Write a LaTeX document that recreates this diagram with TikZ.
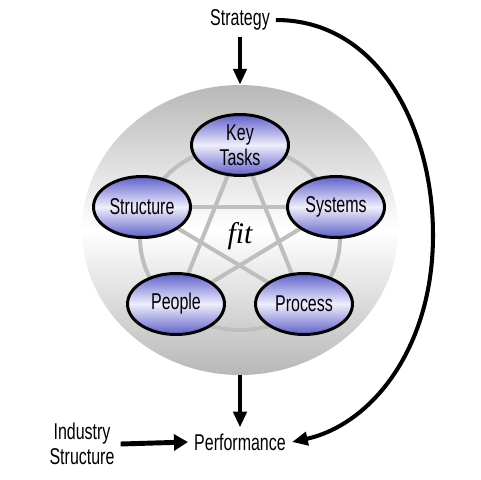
\documentclass[tikz,border=0pt]{standalone}
\usepackage{fontspec}
\setmainfont{Liberation Sans}[FakeStretch=0.7]
\newfontfamily\fitfont{Liberation Serif}
\usepackage{xcolor}
\usetikzlibrary{shapes.geometric}
\usetikzlibrary{arrows.meta}
\definecolor{elemBlue}{RGB}{96,96,204}
\definecolor{elemLight}{RGB}{238,238,252}
\definecolor{discGray}{RGB}{184,184,184}
\definecolor{starGray}{RGB}{190,190,190}
\pgfdeclarelayer{back}
\pgfdeclarelayer{mid}
\pgfsetlayers{back,mid,main}

\begin{document}
\begin{tikzpicture}[x=0.02cm,y=-0.02cm,font=\fontsize{13}{14}\selectfont,
    element/.style={ellipse,draw=black,line width=1.7pt,minimum width=1.94cm,minimum height=1.22cm,inner sep=0pt,align=center,
      top color=elemBlue,bottom color=elemBlue,middle color=elemLight},
    starline/.style={draw=starGray,line width=2.3pt},
    bigarrow/.style={-{Triangle[length=9pt,width=7.5pt]},line width=2.3pt}]
    \useasboundingbox (0,0) rectangle (480,480);

    \begin{pgfonlayer}{back}
    \node[ellipse,minimum width = 6.32cm,minimum height = 5.8cm,inner sep = 0pt,
      top color = discGray,bottom color = discGray,middle color = white](org) at (240,230) {};
    \end{pgfonlayer}

    \node[element](keyTasks) at (240,145) {Key\\Tasks};
    \node[element](structure) at (142,207) {Structure};
    \node[element](systems) at (336,207) {Systems};
    \node[element](people) at (176,304) {People};
    \node[element](process) at (304,304) {Process};
    \node(fit) at (240,236) {\fitfont\itshape\fontsize{17}{17}\selectfont fit};

    \begin{pgfonlayer}{mid}
    \draw[starline] (240,238) ellipse [x radius = 2cm,y radius = 1.84cm];
    \draw[starline] (keyTasks.center) -- (people.center);
    \draw[starline] (keyTasks.center) -- (process.center);
    \draw[starline] (structure.center) -- (systems.center);
    \draw[starline] (structure.center) -- (process.center);
    \draw[starline] (systems.center) -- (people.center);
    \end{pgfonlayer}

    \node[align = center](strategy) at (240,20) {Strategy};
    \node[align = center](performance) at (240,442) {Performance};
    \node[align = center](industry) at (82,444) {Industry\\Structure};
    \coordinate (bend) at (433,235);

    \draw [bigarrow] (strategy.south) -- (org.north);
    \draw [bigarrow] (org.south) -- (performance.north);
    \draw [-{Triangle[length=8pt,width=9pt]},line width=2.8pt] (industry.east) -- (performance.west);
    \draw [bigarrow] (strategy.east) .. controls (380,20) and (433,130) .. (bend)
      .. controls (433,350) and (370,425) .. (performance.east);
\end{tikzpicture}
\end{document}
